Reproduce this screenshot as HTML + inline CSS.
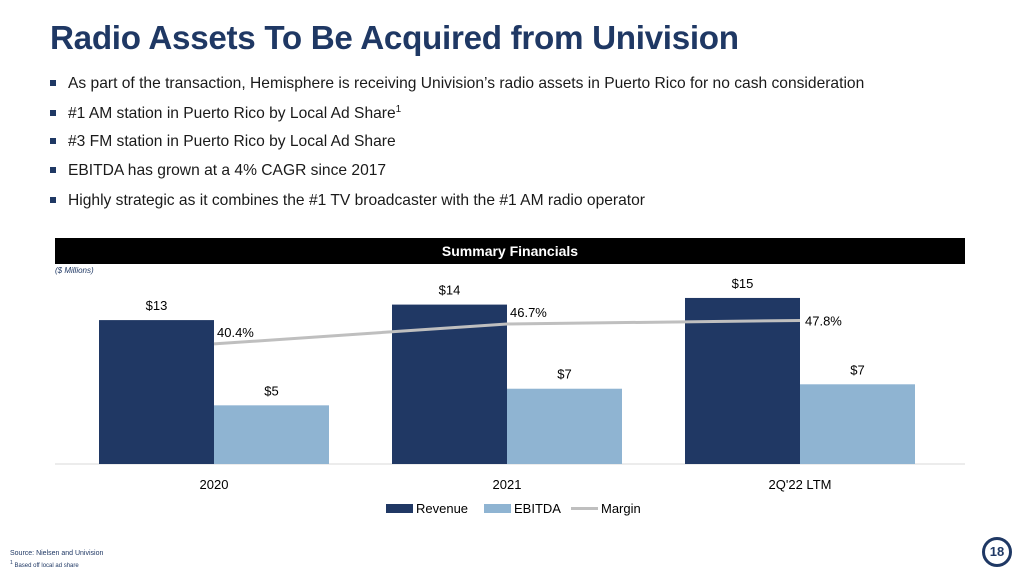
<!DOCTYPE html>
<html><head><meta charset="utf-8"><style>
body{margin:0;width:1022px;height:574px;background:#fff;font-family:"Liberation Sans",sans-serif;position:relative;overflow:hidden}
.t{position:absolute;white-space:nowrap}
#title{left:50px;top:20px;font-size:33.2px;font-weight:bold;color:#1f3864;letter-spacing:-0.3px}
.b{left:50px;font-size:15.6px;color:#1a1a1a}
.b:before{content:"";display:inline-block;width:6px;height:6px;background:#1f3864;margin-right:12px;vertical-align:2px}
</style></head><body>
<div class="t" id="title">Radio Assets To Be Acquired from Univision</div>
<div class="t b" style="top:75px">As part of the transaction, Hemisphere is receiving Univision’s radio assets in Puerto Rico for no cash consideration</div>
<div class="t b" style="top:104px">#1 AM station in Puerto Rico by Local Ad Share<sup style="font-size:10px">1</sup></div>
<div class="t b" style="top:133px">#3 FM station in Puerto Rico by Local Ad Share</div>
<div class="t b" style="top:162px">EBITDA has grown at a 4% CAGR since 2017</div>
<div class="t b" style="top:192px">Highly strategic as it combines the #1 TV broadcaster with the #1 AM radio operator</div>
<svg id="chart" width="1022" height="574" style="position:absolute;left:0;top:0"></svg>
<div class="t" style="left:10px;top:550px;font-size:7px;color:#1f3864">Source: Nielsen and Univision</div>
<div class="t" style="left:10px;top:560px;font-size:6px;color:#1f3864"><sup>1</sup> Based off local ad share</div>
<div class="t" style="left:982px;top:537px;width:24px;height:24px;border:3px solid #1f3864;border-radius:50%;text-align:center;line-height:24px;font-size:13px;font-weight:bold;color:#1f3864">18</div>
<script>
const categories=["2020","2021","2Q'22 LTM"];
const revenue=[13.0,14.4,15.0];
const ebitda=[5.3,6.8,7.2];
const margin=[40.4,46.7,47.8];
const revLabels=["$13","$14","$15"];
const ebLabels=["$5","$7","$7"];
const NS="http://www.w3.org/2000/svg";
const svg=document.getElementById('chart');
function mk(t,a,p){const e=document.createElementNS(NS,t);for(const k in a)e.setAttribute(k,a[k]);(p||svg).appendChild(e);return e;}
const base=464, pxPerUnit=11.07;
const y=v=>base-v*pxPerUnit;
const ym=m=>472-m*3.17;
const groupX=i=>99+i*293, bw=115;
let hb=mk('rect',{x:55,y:238,width:910,height:26,fill:'#000'});


let ht=mk('text',{x:510,y:256,'text-anchor':'middle','font-size':14,'font-weight':'bold',fill:'#fff'});ht.textContent='Summary Financials';


let un=mk('text',{x:55,y:273,'font-size':8,'font-style':'italic',fill:'#1f3864'});un.textContent='($ Millions)';


let ax=mk('line',{x1:55,x2:965,y1:base,y2:base,stroke:'#d9d9d9','stroke-width':1});


categories.forEach((c,i)=>{
  const x0=groupX(i);
  let r=mk('rect',{x:x0,y:y(revenue[i]),width:bw,height:base-y(revenue[i]),fill:'#203864'});
  
  
  let e=mk('rect',{x:x0+bw,y:y(ebitda[i]),width:bw,height:base-y(ebitda[i]),fill:'#8fb4d2'});
  
  
  let rl=mk('text',{x:x0+bw/2,y:y(revenue[i])-10,'text-anchor':'middle','font-size':13,fill:'#000'});rl.textContent=revLabels[i];
  
  
  let el=mk('text',{x:x0+bw*1.5,y:y(ebitda[i])-10,'text-anchor':'middle','font-size':13,fill:'#000'});el.textContent=ebLabels[i];
  
  
  let cl=mk('text',{x:x0+bw,y:489,'text-anchor':'middle','font-size':13,fill:'#000'});cl.textContent=categories[i];
  
  
});
const pts=margin.map((m,i)=>(groupX(i)+bw)+','+ym(m)).join(' ');
let ln=mk('polyline',{points:pts,fill:'none',stroke:'#bfbfbf','stroke-width':3});


margin.forEach((m,i)=>{
  const last=i===margin.length-1;
  let t=mk('text',{x:groupX(i)+bw+(last?5:3),y:last?ym(m)+5:ym(m)-7,'font-size':13,fill:'#000'});t.textContent=m.toFixed(1)+'%';
  
  
});
const leg=[["Revenue",'#203864','rect',386],["EBITDA",'#8fb4d2','rect',484],["Margin",'#bfbfbf','line',571]];
leg.forEach(l=>{
  const g=mk('g',{});
  
  
  if(l[2]==='rect')mk('rect',{x:l[3],y:504,width:27,height:9,fill:l[1]},g);
  else mk('line',{x1:l[3],x2:l[3]+27,y1:508.5,y2:508.5,stroke:l[1],'stroke-width':3},g);
  const t=mk('text',{x:l[3]+30,y:513,'font-size':13,fill:'#000'},g);t.textContent=l[0];
});
</script>
</body></html>
